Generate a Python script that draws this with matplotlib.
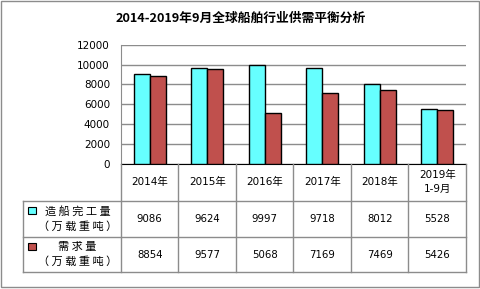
import matplotlib
matplotlib.use("Agg")
import matplotlib.pyplot as plt
from matplotlib.patches import Rectangle

plt.rcParams['font.family'] = ['DejaVu Sans', 'Noto Sans CJK SC']

#data
years = ["2014年", "2015年", "2016年", "2017年", "2018年", "2019年\n1-9月"]
supply = [9086, 9624, 9997, 9718, 8012, 5528]
demand = [8854, 9577, 5068, 7169, 7469, 5426]
yticks = [0, 2000, 4000, 6000, 8000, 10000, 12000]
row_labels = [["造 船 完 工 量", "（ 万 载 重 吨 ）"], ["需 求 量", "（ 万 载 重 吨 ）"]]

W, H = 481, 289
cyan = "#66FFFF"
red = "#C0504D"
grey = "#8C8C8C"
cjk = ['Noto Sans CJK SC', 'DejaVu Sans']

def fx(x):
    return x / W

def fy(y):
    return 1 - y / H

fig = plt.figure(figsize=(W / 100, H / 100), dpi=100)
fig.add_artist(Rectangle((fx(1), fy(287)), fx(478), 286 / H, transform=fig.transFigure,
                         fill=False, edgecolor=grey, linewidth=1))

fig.text(fx(241), fy(18), "2014-2019年9月全球船舶行业供需平衡分析", ha="center", va="center",
         fontsize=9.2, fontweight="heavy", family=cjk)

#bar chart
left, right, top, bottom = 121, 466, 45, 163.5
ax = fig.add_axes([fx(left), fy(bottom), fx(right - left), (bottom - top) / H])
idx = list(range(len(years)))
w = 0.28
ax.bar([i - w / 2 for i in idx], supply, width=w, color=cyan, edgecolor="black", linewidth=1, zorder=3)
ax.bar([i + w / 2 for i in idx], demand, width=w, color=red, edgecolor="black", linewidth=1, zorder=3)
ax.set_xlim(-0.5, len(years) - 0.5)
ax.set_ylim(0, 12000)
ax.set_yticks(yticks)
ax.set_yticklabels([str(v) for v in yticks], fontsize=7.5)
ax.tick_params(axis="y", length=0, pad=8)
ax.set_xticks([])
ax.yaxis.grid(True, color=grey, linewidth=1, zorder=0)
for s in ["top", "right"]:
    ax.spines[s].set_visible(False)
ax.spines["left"].set_color(grey)
ax.spines["bottom"].set_color("black")
ax.patch.set_alpha(0)

#data table under the chart
colw = (right - left) / len(years)
edges = [left + colw * i for i in range(len(years) + 1)]
r0, r1, r2, r3 = 163.5, 201, 237, 272
tleft = 23

def line(x0, y0, x1, y1):
    fig.add_artist(plt.Line2D([fx(x0), fx(x1)], [fy(y0), fy(y1)], transform=fig.transFigure,
                              color=grey, linewidth=1))

for x in edges:
    line(x, r0, x, r3)
line(tleft, r1, tleft, r3)
for y in [r1, r2, r3]:
    line(tleft, y, right, y)

for i, yr in enumerate(years):
    cx = (edges[i] + edges[i + 1]) / 2
    fig.text(fx(cx), fy((r0 + r1) / 2), yr, ha="center", va="center", fontsize=7.5, linespacing=1.5)
    fig.text(fx(cx), fy((r1 + r2) / 2), str(supply[i]), ha="center", va="center", fontsize=7.3)
    fig.text(fx(cx), fy((r2 + r3) / 2), str(demand[i]), ha="center", va="center", fontsize=7.3)

for (ya, yb), lab, col in [((r1, r2), row_labels[0], cyan), ((r2, r3), row_labels[1], red)]:
    cy = (ya + yb) / 2
    fig.text(fx(77.5), fy(cy - 7.5), lab[0], ha="center", va="center", fontsize=8, family=cjk)
    fig.text(fx(77.5), fy(cy + 7.5), lab[1], ha="center", va="center", fontsize=8, family=cjk)
    fig.add_artist(Rectangle((fx(28.5), fy(cy - 5)), fx(7), 7 / H, transform=fig.transFigure,
                             facecolor=col, edgecolor="black", linewidth=0.8))

fig.savefig("out.png", dpi=100)
